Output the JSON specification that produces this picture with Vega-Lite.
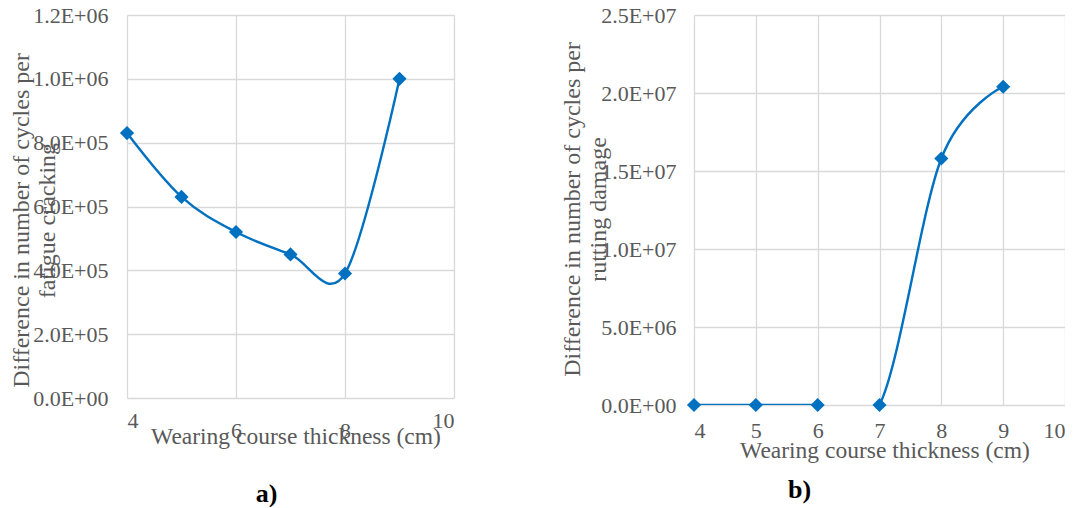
{
  "$schema": "https://vega.github.io/schema/vega-lite/v6.json",
  "padding": {"left": 8, "top": 4, "right": 0, "bottom": 0},
  "bounds": "flush",
  "spacing": 240,
  "background": "#ffffff",
  "config": {
    "font": "Liberation Serif",
    "view": {"stroke": null},
    "axis": {
      "labelFont": "Liberation Serif",
      "titleFont": "Liberation Serif",
      "labelColor": "#595959",
      "titleColor": "#595959",
      "labelFontSize": 22,
      "titleFontSize": 23.5,
      "titleFontWeight": "normal",
      "gridColor": "#d9d9d9",
      "gridWidth": 1.3,
      "domain": false,
      "ticks": false
    },
    "axisY": {"titleFontSize": 24},
    "title": {"font": "Liberation Serif", "fontSize": 26, "fontWeight": "bold", "color": "#000000"}
  },
  "datasets": {
    "fatigue": [
      {"thickness": 4, "cycles": 830000},
      {"thickness": 5, "cycles": 630000},
      {"thickness": 6, "cycles": 520000},
      {"thickness": 7, "cycles": 450000},
      {"thickness": 8, "cycles": 390000},
      {"thickness": 9, "cycles": 1000000}
    ],
    "rutting": [
      {"thickness": 4, "cycles": 0},
      {"thickness": 5, "cycles": 0},
      {"thickness": 6, "cycles": 0},
      {"thickness": 7, "cycles": 0},
      {"thickness": 8, "cycles": 15800000},
      {"thickness": 9, "cycles": 20400000}
    ]
  },
  "hconcat": [
    {
      "width": 327,
      "height": 383,
      "title": {"text": "a)", "orient": "bottom", "dx": -24, "offset": 33},
      "data": {"name": "fatigue"},
      "encoding": {
        "x": {
          "field": "thickness",
          "type": "quantitative",
          "scale": {"domain": [4, 10]},
          "axis": {
            "values": [4, 6, 8, 10],
            "title": "Wearing course thickness (cm)",
            "labelExpr": "datum.value == 6 || datum.value == 8 ? ['', datum.label] : datum.label",
            "labelLineHeight": 10,
            "labelBaseline": "alphabetic",
            "labelPadding": 29,
            "titleBaseline": "alphabetic",
            "titleX": 168.5,
            "titleY": 45
          }
        },
        "y": {
          "field": "cycles",
          "type": "quantitative",
          "scale": {"domain": [0, 1200000]},
          "axis": {
            "values": [0, 200000, 400000, 600000, 800000, 1000000, 1200000],
            "labelExpr": "datum.value == 0 ? '0.0E+00' : (datum.value < 1000000 ? format(datum.value / 100000, '.1f') + 'E+05' : format(datum.value / 1000000, '.1f') + 'E+06')",
            "labelPadding": 19,
            "title": ["Difference in number of cycles per", "fatigue cracking"],
            "titleX": -94,
            "titleY": 205,
            "titleLineHeight": 26
          }
        }
      },
      "layer": [
        {"mark": {"type": "line", "interpolate": "cardinal", "tension": 0, "color": "#0070c0", "strokeWidth": 2.4, "clip": true}},
        {"mark": {"type": "point", "shape": "diamond", "filled": true, "size": 200, "color": "#0070c0", "opacity": 1}}
      ]
    },
    {
      "width": 371,
      "height": 390,
      "title": {"text": "b)", "orient": "bottom", "dx": -80, "offset": 15},
      "data": {"name": "rutting"},
      "encoding": {
        "x": {
          "field": "thickness",
          "type": "quantitative",
          "scale": {"domain": [4, 10]},
          "axis": {
            "values": [4, 5, 6, 7, 8, 9, 10],
            "title": "Wearing course thickness (cm)",
            "labelBaseline": "alphabetic",
            "labelPadding": 32,
            "titleBaseline": "alphabetic",
            "titleX": 190.5,
            "titleY": 52
          }
        },
        "y": {
          "field": "cycles",
          "type": "quantitative",
          "scale": {"domain": [0, 25000000]},
          "axis": {
            "values": [0, 5000000, 10000000, 15000000, 20000000, 25000000],
            "labelExpr": "datum.value == 0 ? '0.0E+00' : (datum.value < 10000000 ? format(datum.value / 1000000, '.1f') + 'E+06' : format(datum.value / 10000000, '.1f') + 'E+07')",
            "labelPadding": 18,
            "title": ["Difference in number of cycles per", "rutting damage"],
            "titleX": -110,
            "titleY": 194,
            "titleLineHeight": 26
          }
        }
      },
      "layer": [
        {"mark": {"type": "line", "interpolate": "cardinal", "tension": 0, "color": "#0070c0", "strokeWidth": 2.4, "clip": true}},
        {"mark": {"type": "point", "shape": "diamond", "filled": true, "size": 200, "color": "#0070c0", "opacity": 1}}
      ]
    }
  ]
}
